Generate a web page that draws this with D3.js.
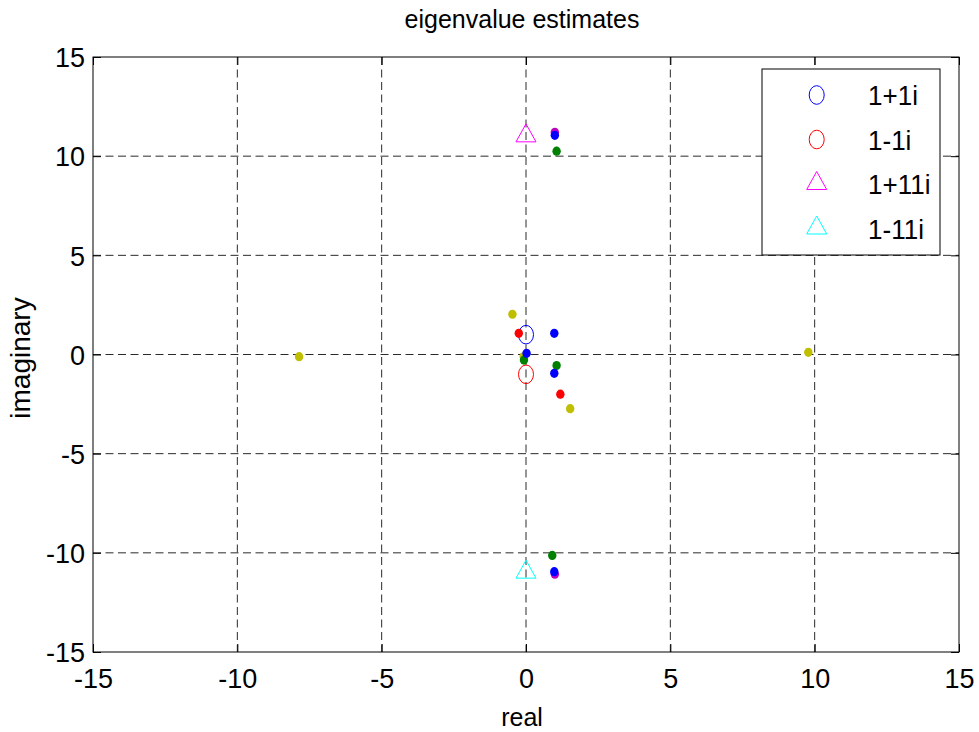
<!DOCTYPE html>
<html>
<head>
<meta charset="utf-8">
<script src="https://cdn.jsdelivr.net/npm/d3@7"></script>
<style>
  html, body { margin: 0; padding: 0; background: #fff; }
  svg { display: block; }
  text { font-family: "Liberation Sans", Arial, sans-serif; fill: #000; }
</style>
</head>
<body>
<svg id="chart" width="979" height="732"></svg>
<script>
// True eigenvalues (legend entries) and where they are drawn
const trueLabels = ["1+1i", "1-1i", "1+11i", "1-11i"];
const trueRe = [0, 0, 0, 0];
const trueIm = [1, -1, 11, -11];
const trueShapes = ["circle", "circle", "triangle", "triangle"];
const trueColors = ["#0000ff", "#ff0000", "#ff00ff", "#00ffff"];

// Estimated eigenvalues, one small array pair per colour
const magentaRe = [1.0, 1.0];
const magentaIm = [11.2, -11.08];
const yellowRe = [-0.47, -0.08, 1.53, -7.86, 9.78];
const yellowIm = [2.03, -0.1, -2.73, -0.11, 0.11];
const greenRe = [1.06, -0.07, 1.06, 0.91];
const greenIm = [10.25, -0.28, -0.56, -10.13];
const redRe = [-0.25, 1.19];
const redIm = [1.07, -2.0];
const blueRe = [1.0, 0.98, 0.02, 0.98, 0.98];
const blueIm = [11.05, 1.07, 0.06, -0.95, -10.95];

const xTicks = [-15, -10, -5, 0, 5, 10, 15];
const yTicks = [-15, -10, -5, 0, 5, 10, 15];

const estimates = [
  { re: magentaRe, im: magentaIm, color: "#c000c0" },
  { re: yellowRe, im: yellowIm, color: "#bfbf00" },
  { re: greenRe, im: greenIm, color: "#008000" },
  { re: redRe, im: redIm, color: "#ff0000" },
  { re: blueRe, im: blueIm, color: "#0000ff" }
];

const svg = d3.select("#chart");
const L = 93, R = 959, T = 57, B = 652;

const x = d3.scaleLinear().domain([-15, 15]).range([L, R]);
const y = d3.scaleLinear().domain([-15, 15]).range([B, T]);

// plain hyphen-minus tick labels
const fmt = d => String(d);

// dashed grid
const grid = svg.append("g");
grid.selectAll("line.vg").data(xTicks.slice(1, -1)).join("line")
  .attr("x1", d => x(d)).attr("x2", d => x(d))
  .attr("y1", T).attr("y2", B)
  .attr("stroke", "#2a2a2a").attr("stroke-width", 1)
  .attr("stroke-dasharray", "8,4.5");
grid.selectAll("line.hg").data(yTicks.slice(1, -1)).join("line")
  .attr("x1", L).attr("x2", R)
  .attr("y1", d => y(d)).attr("y2", d => y(d))
  .attr("stroke", "#2a2a2a").attr("stroke-width", 1)
  .attr("stroke-dasharray", "8,4.5");

// axes with inward ticks
const tickLen = 8;
const xAxisB = svg.append("g").attr("transform", `translate(0,${B})`)
  .call(d3.axisBottom(x).tickValues(xTicks).tickFormat(fmt).tickSizeInner(-tickLen).tickSizeOuter(0).tickPadding(17));
const xAxisT = svg.append("g").attr("transform", `translate(0,${T})`)
  .call(d3.axisTop(x).tickValues(xTicks).tickSizeInner(-tickLen).tickSizeOuter(0).tickFormat(""));
const yAxisL = svg.append("g").attr("transform", `translate(${L},0)`)
  .call(d3.axisLeft(y).tickValues(yTicks).tickFormat(fmt).tickSizeInner(-tickLen).tickSizeOuter(0).tickPadding(8));
const yAxisR = svg.append("g").attr("transform", `translate(${R},0)`)
  .call(d3.axisRight(y).tickValues(yTicks).tickSizeInner(-tickLen).tickSizeOuter(0).tickFormat(""));

[xAxisB, xAxisT, yAxisL, yAxisR].forEach(a => {
  a.select(".domain").remove();
  a.selectAll(".tick line").attr("stroke", "#000");
  a.selectAll("text")
    .style("font-family", '"Liberation Sans", Arial, sans-serif')
    .style("font-size", "27px").attr("fill", "#000");
});
xAxisB.selectAll("text").attr("dy", "0.71em");
yAxisL.selectAll("text").attr("dy", "0.36em");

// plot box
svg.append("rect").attr("x", L).attr("y", T).attr("width", R - L).attr("height", B - T)
  .attr("fill", "none").attr("stroke", "#000").attr("stroke-width", 1);

// marker shapes
const triPath = "M0,-12.5L10,5.5L-10,5.5Z";
function drawHollow(g, shape, color) {
  if (shape === "circle") {
    g.append("ellipse").attr("rx", 7.5).attr("ry", 9.3)
      .attr("fill", "none").attr("stroke", color).attr("stroke-width", 1);
  } else {
    g.append("path").attr("d", triPath)
      .attr("fill", "none").attr("stroke", color).attr("stroke-width", 1);
  }
}

// true eigenvalues
const trueG = svg.append("g");
trueLabels.forEach((lab, i) => {
  const g = trueG.append("g").attr("transform", `translate(${x(trueRe[i])},${y(trueIm[i])})`);
  drawHollow(g, trueShapes[i], trueColors[i]);
});

// estimates as filled dots
const dotsG = svg.append("g");
estimates.forEach(s => {
  dotsG.append("g").selectAll("ellipse").data(d3.range(s.re.length)).join("ellipse")
    .attr("cx", i => x(s.re[i])).attr("cy", i => y(s.im[i]))
    .attr("rx", 4.2).attr("ry", 4.6)
    .attr("fill", s.color);
});

// legend
const lg = svg.append("g");
lg.append("rect").attr("x", 762).attr("y", 69).attr("width", 178).attr("height", 186)
  .attr("fill", "#fff").attr("stroke", "#000").attr("stroke-width", 1);
const rowY = [95, 139.5, 184, 228.5];
trueLabels.forEach((lab, i) => {
  const g = lg.append("g").attr("transform", `translate(816.7,${rowY[i]})`);
  drawHollow(g, trueShapes[i], trueColors[i]);
  lg.append("text").attr("transform", `translate(868,${rowY[i]}) scale(0.93,1)`)
    .attr("dy", "0.36em").style("font-size", "28px").text(lab);
});

// title and axis labels
svg.append("text").attr("x", 522).attr("y", 28).attr("text-anchor", "middle")
  .style("font-size", "25px").text("eigenvalue estimates");
svg.append("text").attr("x", 522).attr("y", 726).attr("text-anchor", "middle")
  .style("font-size", "25px").text("real");
svg.append("text").attr("transform", "translate(30,358) rotate(-90)")
  .attr("text-anchor", "middle").style("font-size", "28px").text("imaginary");
</script>
</body>
</html>
